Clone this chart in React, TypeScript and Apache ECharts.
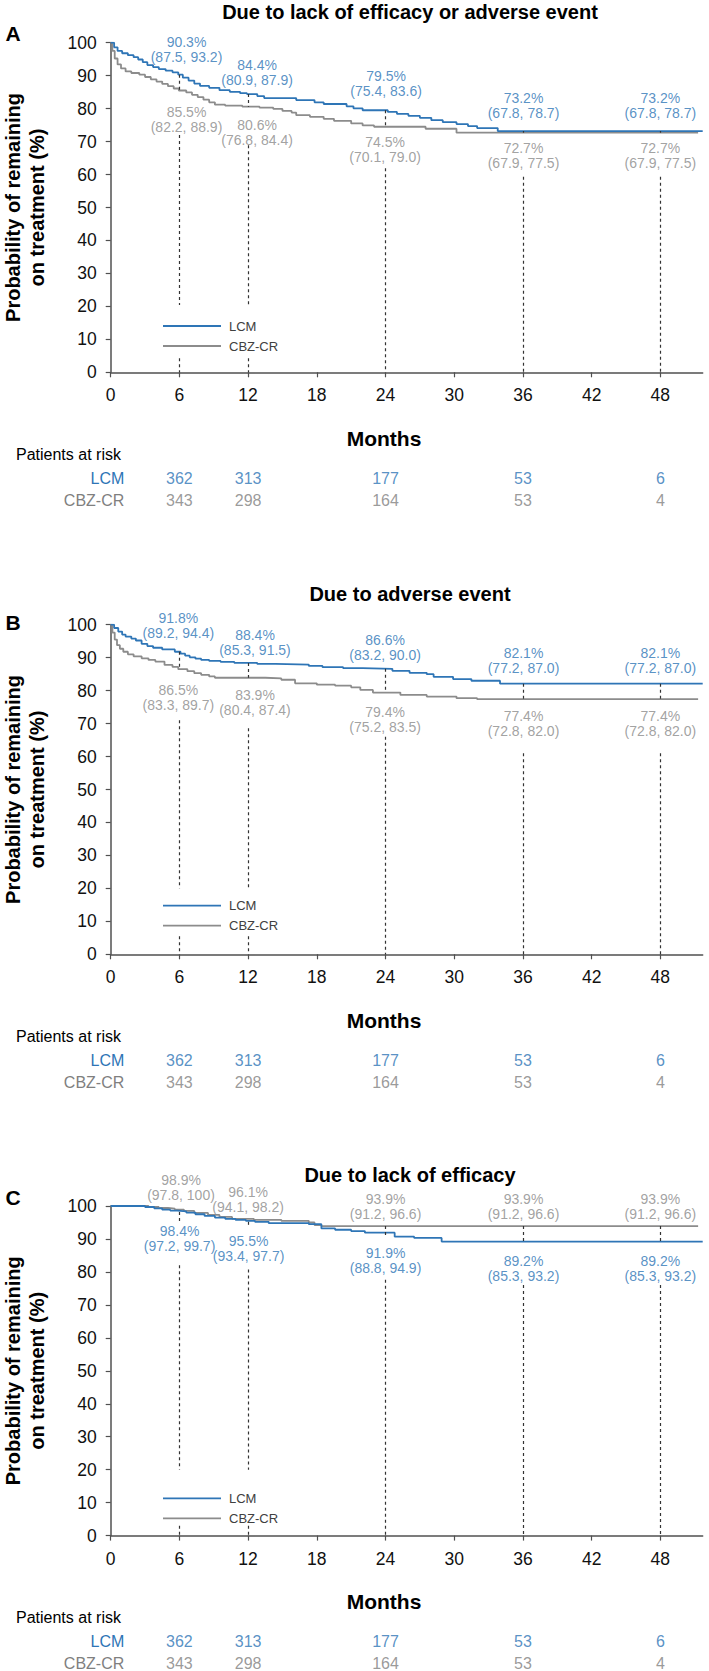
import React, { useEffect, useRef } from "react";
import * as echarts from "echarts";

// ---------- data ----------
const months = [6, 12, 24, 36, 48];
const xTicks = [0, 6, 12, 18, 24, 30, 36, 42, 48];
const seriesNames = ["LCM", "CBZ-CR"];
const panelTitles = [
  "Due to lack of efficacy or adverse event",
  "Due to adverse event",
  "Due to lack of efficacy",
];
const panelLetters = ["A", "B", "C"];

// Panel A curves (months, survival %)
const A_LCM_t = [0, 0.3, 0.6, 1.0, 1.5, 2.0, 2.4, 2.8, 3.2, 3.7, 4.2, 4.8, 5.4, 5.9, 6.3, 6.8, 7.3, 7.8, 8.6, 9.5, 10.4, 11.3, 11.9, 12.8, 13.4, 16.2, 17.8, 18.6, 20.6, 21.2, 22.0, 24.2, 25.0, 26.0, 27.0, 28.0, 29.0, 30.2, 31.2, 32.0, 33.8, 52.0];
const A_LCM_s = [100, 98.6, 97.5, 96.8, 96.2, 95.6, 94.9, 94.1, 93.2, 92.6, 92.0, 91.5, 91.0, 90.3, 89.4, 88.5, 87.6, 86.9, 86.3, 85.6, 85.1, 84.7, 84.4, 83.8, 83.2, 82.6, 81.9, 81.4, 80.7, 80.1, 79.5, 79.0, 78.4, 77.8, 77.2, 76.5, 75.9, 75.3, 74.7, 74.1, 73.2, 73.2];
const A_CBZ_t = [0, 0.15, 0.35, 0.6, 0.9, 1.3, 1.8, 2.5, 3.0, 3.5, 4.0, 4.5, 5.0, 5.5, 5.95, 6.6, 7.1, 7.6, 8.1, 8.6, 9.1, 10.0, 11.5, 13.0, 14.2, 15.0, 15.8, 16.2, 17.4, 18.6, 19.5, 21.0, 22.0, 23.0, 27.5, 30.2, 51.3];
const A_CBZ_s = [100, 97.5, 95.2, 93.4, 92.2, 91.3, 90.8, 90.3, 89.6, 88.9, 88.2, 87.5, 86.8, 86.1, 85.5, 84.9, 84.2, 83.5, 82.7, 81.9, 81.2, 80.9, 80.6, 80.3, 79.9, 79.3, 78.8, 78.0, 77.5, 76.9, 76.3, 75.5, 74.9, 74.5, 73.9, 72.7, 72.7];

// Panel B curves
const B_LCM_t = [0, 0.3, 0.66, 1.0, 1.3, 1.8, 2.2, 2.7, 3.2, 3.7, 4.5, 5.6, 6.1, 6.5, 6.9, 7.4, 7.9, 8.6, 9.6, 10.8, 12.8, 14.4, 17.3, 18.5, 20.3, 22.0, 24.6, 26.1, 27.6, 28.2, 29.9, 31.5, 34.0, 52.0];
const B_LCM_s = [100, 99.0, 97.9, 97.0, 96.4, 95.8, 95.2, 94.2, 93.5, 93.0, 92.5, 91.8, 91.2, 90.6, 90.1, 89.7, 89.3, 89.0, 88.7, 88.4, 88.1, 87.9, 87.5, 87.1, 86.8, 86.6, 86.0, 85.4, 85.0, 84.2, 83.5, 83.0, 82.1, 82.1];
const B_CBZ_t = [0, 0.15, 0.35, 0.55, 0.8, 1.1, 1.5, 2.0, 2.7, 3.3, 3.9, 4.7, 5.4, 5.9, 6.7, 7.3, 7.9, 8.6, 9.1, 13.5, 14.9, 16.1, 18.0, 19.6, 21.0, 21.8, 22.9, 25.3, 27.6, 30.2, 32.0, 51.3];
const B_CBZ_s = [100, 97.6, 95.5, 93.8, 92.7, 91.8, 91.0, 90.4, 89.8, 89.3, 88.8, 87.8, 87.2, 86.5, 85.9, 85.3, 84.8, 84.3, 83.9, 83.7, 83.3, 82.2, 81.8, 81.5, 81.0, 80.2, 79.4, 78.7, 78.2, 77.7, 77.4, 77.4];

// Panel C curves
const C_LCM_t = [0, 3.0, 3.8, 4.5, 5.2, 5.8, 6.6, 7.4, 8.2, 9.1, 10.0, 10.9, 11.8, 12.6, 13.8, 17.3, 18.4, 19.6, 21.0, 22.2, 24.8, 26.5, 28.9, 52.0];
const C_LCM_s = [100, 99.7, 99.3, 98.9, 98.6, 98.4, 98.0, 97.5, 97.0, 96.5, 96.1, 95.8, 95.5, 95.2, 94.8, 94.5, 93.2, 92.8, 92.4, 91.9, 90.7, 90.3, 89.2, 89.2];
const C_CBZ_t = [0, 3.3, 4.2, 5.0, 5.6, 6.4, 7.3, 8.5, 9.5, 10.6, 12.5, 14.9, 17.3, 17.8, 18.4, 51.3];
const C_CBZ_s = [100, 99.7, 99.4, 99.2, 98.9, 98.5, 97.9, 97.3, 96.7, 96.1, 95.8, 95.5, 95.0, 94.2, 93.9, 93.9];

// KM estimates at 6, 12, 24, 36, 48 months: estimate, lower, upper
const A_LCM_est = [90.3, 84.4, 79.5, 73.2, 73.2];
const A_LCM_lo = [87.5, 80.9, 75.4, 67.8, 67.8];
const A_LCM_hi = [93.2, 87.9, 83.6, 78.7, 78.7];
const A_CBZ_est = [85.5, 80.6, 74.5, 72.7, 72.7];
const A_CBZ_lo = [82.2, 76.8, 70.1, 67.9, 67.9];
const A_CBZ_hi = [88.9, 84.4, 79.0, 77.5, 77.5];

const B_LCM_est = [91.8, 88.4, 86.6, 82.1, 82.1];
const B_LCM_lo = [89.2, 85.3, 83.2, 77.2, 77.2];
const B_LCM_hi = [94.4, 91.5, 90.0, 87.0, 87.0];
const B_CBZ_est = [86.5, 83.9, 79.4, 77.4, 77.4];
const B_CBZ_lo = [83.3, 80.4, 75.2, 72.8, 72.8];
const B_CBZ_hi = [89.7, 87.4, 83.5, 82.0, 82.0];

const C_LCM_est = [98.4, 95.5, 91.9, 89.2, 89.2];
const C_LCM_lo = [97.2, 93.4, 88.8, 85.3, 85.3];
const C_LCM_hi = [99.7, 97.7, 94.9, 93.2, 93.2];
const C_CBZ_est = [98.9, 96.1, 93.9, 93.9, 93.9];
const C_CBZ_lo = [97.8, 94.1, 91.2, 91.2, 91.2];
const C_CBZ_hi = [100, 98.2, 96.6, 96.6, 96.6];

// Patients at risk (same in all panels)
const riskLCM = [362, 313, 177, 53, 6];
const riskCBZ = [343, 298, 164, 53, 4];

// ---------- layout (data-coordinate anchors for annotation text) ----------
const A_LCM_lab = [[6.62, 97.9], [12.78, 91.0], [24.05, 87.7], [36.05, 80.9], [48, 80.9]];
const A_CBZ_lab = [[6.62, 76.7], [12.78, 72.75], [23.96, 67.7], [36.05, 65.9], [48, 65.9]];
const B_LCM_lab = [[5.91, 99.85], [12.6, 94.5], [23.96, 93.1], [36.05, 89.05], [48, 89.05]];
const B_CBZ_lab = [[5.91, 78.0], [12.6, 76.4], [23.96, 71.1], [36.05, 70.1], [48, 70.1]];
const C_LCM_lab = [[6.01, 90.1], [12.04, 87.2], [24, 83.4], [36.05, 81.1], [48, 81.1]];
const C_CBZ_lab = [[6.14, 105.6], [12, 102.1], [24, 99.8], [36.05, 99.8], [48, 99.8]];

// dashed reference segments: [month, yFrom, yTo]
const A_dash = [[6, 90.3, 85.5], [6, 72.0, 20.4], [6, 4.3, 0], [12, 84.4, 80.6], [12, 68.9, 20.4], [12, 4.3, 0], [24, 79.5, 74.5], [24, 61.9, 0], [36, 73.2, 72.7], [36, 59.3, 0], [48, 73.2, 72.7], [48, 59.3, 0]];
const B_dash = [[6, 91.8, 86.5], [6, 71, 20], [6, 5.5, 0], [12, 88.4, 83.9], [12, 68.6, 20], [12, 5.5, 0], [24, 86.6, 79.4], [24, 66, 0], [36, 82.1, 77.4], [36, 61, 0], [48, 82.1, 77.4], [48, 61, 0]];
const C_dash = [[6, 98.2, 95.3], [6, 82, 20], [6, 3, 0], [12, 95.2, 93.4], [12, 80.7, 20], [12, 3, 0], [24, 93.9, 90.4], [24, 77.6, 0], [36, 93.9, 89.2], [36, 76, 0], [48, 93.9, 89.2], [48, 76, 0]];

const FONT = "'Liberation Sans', Arial, sans-serif";
const BLUE = "#2E75B6";
const GRAY = "#8C8C8C";
const GRAY_TXT = "#8A8A8A";
const AXIS = "#505050";

const PLOT_LEFT = 110.7;
const PLOT_W = 592;
const PLOT_H = 329.6;
const X_MAX = 51.7;

const panels = [
  { top: 42.7, letterDy: -9.2, legendDy: 278.3, lcm: [A_LCM_t, A_LCM_s], cbz: [A_CBZ_t, A_CBZ_s], lcmEst: [A_LCM_est, A_LCM_lo, A_LCM_hi], cbzEst: [A_CBZ_est, A_CBZ_lo, A_CBZ_hi], lcmLab: A_LCM_lab, cbzLab: A_CBZ_lab, dash: A_dash },
  { top: 624.7, letterDy: -2.2, legendDy: 276, lcm: [B_LCM_t, B_LCM_s], cbz: [B_CBZ_t, B_CBZ_s], lcmEst: [B_LCM_est, B_LCM_lo, B_LCM_hi], cbzEst: [B_CBZ_est, B_CBZ_lo, B_CBZ_hi], lcmLab: B_LCM_lab, cbzLab: B_CBZ_lab, dash: B_dash },
  { top: 1206, letterDy: -9, legendDy: 287.3, lcm: [C_LCM_t, C_LCM_s], cbz: [C_CBZ_t, C_CBZ_s], lcmEst: [C_LCM_est, C_LCM_lo, C_LCM_hi], cbzEst: [C_CBZ_est, C_CBZ_lo, C_CBZ_hi], lcmLab: C_LCM_lab, cbzLab: C_CBZ_lab, dash: C_dash },
];

const fmt = (v: number) => (v === 100 ? "100" : v.toFixed(1));
const estText = (e: number[][], i: number) => `${fmt(e[0][i])}%\n(${fmt(e[1][i])}, ${fmt(e[2][i])})`;
const zip = (t: number[], s: number[]) => t.map((x, i) => [Math.min(x, X_MAX), s[i]]);

function buildOption() {
  const grid: any[] = [];
  const xAxis: any[] = [];
  const yAxis: any[] = [];
  const series: any[] = [];
  const legend: any[] = [];
  const graphic: any[] = [];

  panels.forEach((p, i) => {
    const gi = i * 2;
    const ti = i * 2 + 1;
    grid.push({ left: PLOT_LEFT, top: p.top, width: PLOT_W, height: PLOT_H });
    // risk table grid: row centres at top+435.3 and top+457.8
    grid.push({ left: PLOT_LEFT, top: p.top + 435.3, width: PLOT_W, height: 22.5 });

    xAxis.push({
      gridIndex: gi, type: "value", min: 0, max: X_MAX, interval: 6,
      axisLine: { show: true, onZero: false, lineStyle: { color: AXIS, width: 1.5 } },
      axisTick: { show: true, length: 5, customValues: xTicks, lineStyle: { color: AXIS, width: 1.2 } },
      axisLabel: { customValues: xTicks, fontSize: 17.5, fontFamily: FONT, color: "#111", margin: 14,
        formatter: (v: number) => (v % 6 === 0 && v <= 48 ? String(v) : "") },
      splitLine: { show: false },
    });
    xAxis.push({ gridIndex: ti, type: "value", min: 0, max: X_MAX, show: false });

    yAxis.push({
      gridIndex: gi, type: "value", min: 0, max: 100, interval: 10,
      axisLine: { show: true, lineStyle: { color: AXIS, width: 1.5 } },
      axisTick: { show: true, length: 5, lineStyle: { color: AXIS, width: 1.2 } },
      axisLabel: { fontSize: 17.5, fontFamily: FONT, color: "#111", margin: 14 },
      splitLine: { show: false },
    });
    yAxis.push({
      gridIndex: ti, type: "category", inverse: true, offset: -13.6, boundaryGap: false,
      data: [
        { value: seriesNames[0], textStyle: { color: BLUE } },
        { value: seriesNames[1], textStyle: { color: "#7F7F7F" } },
      ],
      axisLine: { show: false }, axisTick: { show: false }, splitLine: { show: false },
      axisLabel: { fontSize: 16, fontFamily: FONT, margin: 0, interval: 0 },
    });

    series.push({
      name: seriesNames[1], type: "line", xAxisIndex: gi, yAxisIndex: gi, step: "end",
      symbol: "none", data: zip(p.cbz[0], p.cbz[1]), lineStyle: { color: GRAY, width: 1.8 },
      itemStyle: { color: GRAY }, z: 3, silent: true,
    });
    series.push({
      name: seriesNames[0], type: "line", xAxisIndex: gi, yAxisIndex: gi, step: "end",
      symbol: "none", data: zip(p.lcm[0], p.lcm[1]), lineStyle: { color: BLUE, width: 1.8 },
      itemStyle: { color: BLUE }, z: 4, silent: true,
      markLine: {
        silent: true, symbol: ["none", "none"], label: { show: false },
        lineStyle: { color: "#333", width: 1.2, type: [3, 3] },
        data: p.dash.map((d) => [{ coord: [d[0], d[1]] }, { coord: [d[0], d[2]] }]),
      },
    });

    const labelSeries = (lab: number[][], est: number[][], color: string) => ({
      type: "scatter", xAxisIndex: gi, yAxisIndex: gi, symbolSize: 1, clip: false, silent: true,
      itemStyle: { color: "transparent" }, z: 6,
      label: { show: true, position: "inside", formatter: "{b}", color, fontSize: 14, lineHeight: 15,
        fontFamily: FONT, align: "center", verticalAlign: "middle" },
      data: months.map((m, k) => ({ name: estText(est, k), value: lab[k] })),
    });
    series.push(labelSeries(p.lcmLab, p.lcmEst, BLUE));
    series.push(labelSeries(p.cbzLab, p.cbzEst, GRAY_TXT));

    const riskSeries = (row: string, vals: number[], color: string) => ({
      type: "scatter", xAxisIndex: ti, yAxisIndex: ti, symbolSize: 1, silent: true, clip: false,
      itemStyle: { color: "transparent" },
      label: { show: true, position: "inside", color, fontSize: 16, fontFamily: FONT,
        formatter: (q: any) => String(q.value[2]) },
      data: months.map((m, k) => [m, row, vals[k]]),
    });
    series.push(riskSeries(seriesNames[0], riskLCM, BLUE));
    series.push(riskSeries(seriesNames[1], riskCBZ, "#7F7F7F"));

    legend.push({
      data: seriesNames, orient: "vertical", left: 158, top: p.top + p.legendDy - 7,
      icon: "rect", itemWidth: 58, itemHeight: 1.8, itemGap: 6, selectedMode: false,
      itemStyle: { borderWidth: 0 },
      textStyle: { fontSize: 13, lineHeight: 14, color: "#404040", fontFamily: FONT, padding: [0, 0, 0, 3] },
    });

    const textStyle = (extra: any) => ({ fontFamily: FONT, fill: "#000", ...extra });
    graphic.push({ type: "text", x: 410, y: p.top - 30.7, silent: true,
      style: textStyle({ text: panelTitles[i], fontSize: 20, fontWeight: "bold", align: "center", verticalAlign: "middle", textAlign: "center", textVerticalAlign: "middle" }) });
    graphic.push({ type: "text", x: 13, y: p.top + p.letterDy, silent: true,
      style: textStyle({ text: panelLetters[i], fontSize: 21, fontWeight: "bold", align: "center", verticalAlign: "middle", textAlign: "center", textVerticalAlign: "middle" }) });
    graphic.push({ type: "text", x: 25, y: p.top + PLOT_H / 2, rotation: Math.PI / 2, silent: true,
      style: textStyle({ text: "Probability of remaining\non treatment (%)", fontSize: 20, fontWeight: "bold", lineHeight: 24, align: "center", verticalAlign: "middle", textAlign: "center", textVerticalAlign: "middle" }) });
    graphic.push({ type: "text", x: 384, y: p.top + 395.5, silent: true,
      style: textStyle({ text: "Months", fontSize: 21, fontWeight: "bold", align: "center", verticalAlign: "middle", textAlign: "center", textVerticalAlign: "middle" }) });
    graphic.push({ type: "text", x: 16, y: p.top + 411.3, silent: true,
      style: textStyle({ text: "Patients at risk", fontSize: 16, align: "left", verticalAlign: "middle", textAlign: "left", textVerticalAlign: "middle" }) });
  });

  return {
    animation: false,
    backgroundColor: "#ffffff",
    textStyle: { fontFamily: FONT },
    grid, xAxis, yAxis, series, legend, graphic,
  };
}

export default function App() {
  const ref = useRef<HTMLDivElement>(null);
  useEffect(() => {
    if (!ref.current) return;
    const chart = echarts.init(ref.current, null, { renderer: "svg" });
    chart.setOption(buildOption() as any);
    return () => chart.dispose();
  }, []);
  return (
    <div
      ref={ref}
      style={{ position: "absolute", left: 0, top: 0, width: 709, height: 1671, background: "#fff" }}
    />
  );
}
